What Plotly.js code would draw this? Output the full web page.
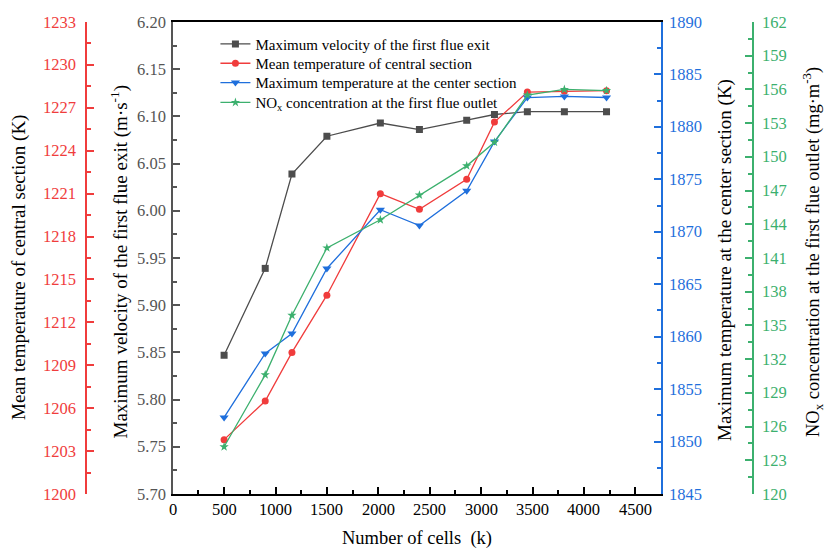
<!DOCTYPE html>
<html>
<head>
<meta charset="utf-8">
<script src="https://cdn.plot.ly/plotly-3.0.1.min.js"></script>
</head>
<body style="margin:0;background:#fff">
<div id="chart" style="width:827px;height:551px"></div>
<div style="position:absolute;left:-5000px;top:0;font-family:'Liberation Serif';font-size:16px">Number 0123456789</div>
<script>
const cells = [500, 900, 1160, 1500, 2020, 2400, 2860, 3130, 3450, 3810, 4220];
const velocity = [5.847, 5.939, 6.039, 6.079, 6.093, 6.086, 6.096, 6.102, 6.105, 6.105, 6.105];
const meanTemp = [1203.8, 1206.5, 1209.9, 1213.9, 1221.0, 1219.9, 1222.0, 1226.0, 1228.1, 1228.15, 1228.2];
const maxTemp = [1852.3, 1858.4, 1860.3, 1866.5, 1872.1, 1870.6, 1873.9, 1878.6, 1882.8, 1882.9, 1882.8];
const nox = [124.2, 130.6, 135.9, 141.9, 144.4, 146.6, 149.2, 151.3, 155.5, 156.0, 155.9];

const xTicks = [0, 500, 1000, 1500, 2000, 2500, 3000, 3500, 4000, 4500];
const velTicks = ["5.70", "5.75", "5.80", "5.85", "5.90", "5.95", "6.00", "6.05", "6.10", "6.15", "6.20"];
const meanTicks = [1200, 1203, 1206, 1209, 1212, 1215, 1218, 1221, 1224, 1227, 1230, 1233];
const maxTicks = [1845, 1850, 1855, 1860, 1865, 1870, 1875, 1880, 1885, 1890];
const noxTicks = [120, 123, 126, 129, 132, 135, 138, 141, 144, 147, 150, 153, 156, 159, 162];

const seriesNames = [
  "Maximum velocity of the first flue exit",
  "Mean temperature of central section",
  "Maximum temperature at the center section",
  "NO<sub>x</sub> concentration at the first flue outlet"
];
const axisTitles = {
  x: "Number of cells  (k)",
  vel: "Maximum velocity of the first flue exit (m·s<sup>-1</sup>)",
  mean: "Mean temperature of central section (K)",
  max: "Maximum temperature at the center section (K)",
  nox: "NO<sub>x</sub> concentration at the first flue outlet (mg·m<sup>-3</sup>)"
};

const cGray = "#4d4d4d", cRed = "#f03c3c", cBlue = "#1f6fdc", cGreen = "#3cb06e";
const FAM = "Liberation Serif";
const TICK_SIZE = 16.5, TITLE_SIZE = 19;

const legendTops = [0.988, 0.947, 0.906, 0.864];
const legendNames = ["legend", "legend2", "legend3", "legend4"];

const traces = [
  {x: cells, y: velocity, name: seriesNames[0], yaxis: "y", mode: "lines+markers", legend: legendNames[0],
   line: {color: cGray, width: 1.3}, marker: {symbol: "square", size: 7, color: cGray}},
  {x: cells, y: meanTemp, name: seriesNames[1], yaxis: "y2", mode: "lines+markers", legend: legendNames[1],
   line: {color: cRed, width: 1.3}, marker: {symbol: "circle", size: 7, color: cRed}},
  {x: cells, y: maxTemp, name: seriesNames[2], yaxis: "y3", mode: "lines+markers", legend: legendNames[2],
   line: {color: cBlue, width: 1.3}, marker: {symbol: "triangle-down", size: 8, color: cBlue}},
  {x: cells, y: nox, name: seriesNames[3], yaxis: "y4", mode: "lines+markers", legend: legendNames[3],
   line: {color: cGreen, width: 1.3}, marker: {symbol: "star", size: 7, color: cGreen}}
];

function legendAt(yTop) {
  return {x: 0.2605, y: yTop, xanchor: "left", yanchor: "top", bgcolor: "rgba(0,0,0,0)",
          font: {family: FAM, size: 15, color: "#000"}};
}

const annotations = [];
function label(text, opts, color, size) {
  annotations.push(Object.assign({text: String(text), showarrow: false, borderpad: 0, borderwidth: 0,
    font: {family: FAM, size: size, color: color}}, opts));
}
xTicks.forEach(v => label(v, {xref: "x", x: v, yref: "paper", y: 0, yanchor: "middle", yshift: -15.5}, "#000", TICK_SIZE));
velTicks.forEach(v => label(v, {xref: "paper", x: 166/827, xanchor: "right", yref: "y", y: Number(v), yanchor: "middle"}, "#555", TICK_SIZE));
meanTicks.forEach(v => label(v, {xref: "paper", x: 76/827, xanchor: "right", yref: "y2", y: v, yanchor: "middle"}, cRed, TICK_SIZE));
maxTicks.forEach(v => label(v, {xref: "paper", x: 669/827, xanchor: "left", yref: "y3", y: v, yanchor: "middle"}, cBlue, TICK_SIZE));
noxTicks.forEach(v => label(v, {xref: "paper", x: 762/827, xanchor: "left", yref: "y4", y: v, yanchor: "middle"}, cGreen, TICK_SIZE));

label(axisTitles.x, {xref: "paper", x: 416.7/827, yref: "paper", y: -0.0953, xanchor: "center", yanchor: "middle"}, "#000", TITLE_SIZE - 0.5);
label(axisTitles.mean, {xref: "paper", x: 19/827, yref: "paper", y: 0.4788, xanchor: "center", yanchor: "middle", textangle: -90}, "#000", TITLE_SIZE);
label(axisTitles.vel, {xref: "paper", x: 119.5/827, yref: "paper", y: 0.4915, xanchor: "center", yanchor: "middle", textangle: -90}, "#000", TITLE_SIZE);
label(axisTitles.max, {xref: "paper", x: 725/827, yref: "paper", y: 0.4958, xanchor: "center", yanchor: "middle", textangle: -90}, "#000", TITLE_SIZE);
label(axisTitles.nox, {xref: "paper", x: 812/827, yref: "paper", y: 0.5127, xanchor: "center", yanchor: "middle", textangle: -90}, "#000", TITLE_SIZE - 0.5);

function yAxisBase(color, range, dtick, minorDtick) {
  return {
    range: range, dtick: dtick, tick0: range[0], showticklabels: false,
    showgrid: false, zeroline: false, showline: true, linecolor: color, linewidth: 2,
    ticks: "inside", ticklen: 7, tickwidth: 1.5, tickcolor: color,
    minor: {dtick: minorDtick, ticks: "inside", ticklen: 4, tickcolor: color}
  };
}

const layout = {
  width: 827, height: 551,
  margin: {l: 0, r: 0, t: 22, b: 57},
  paper_bgcolor: "#fff", plot_bgcolor: "#fff",
  font: {family: FAM, size: 15, color: "#000"},
  showlegend: true,
  legend: legendAt(legendTops[0]),
  legend2: legendAt(legendTops[1]),
  legend3: legendAt(legendTops[2]),
  legend4: legendAt(legendTops[3]),
  annotations: annotations,
  xaxis: {
    domain: [172.7/827, 661/827], range: [0, 4750], dtick: 500, tick0: 0, showticklabels: false,
    showgrid: false, zeroline: false, showline: true, linecolor: "#000", linewidth: 2, mirror: true,
    ticks: "inside", ticklen: 7, tickwidth: 1.5, tickcolor: "#000",
    minor: {dtick: 250, ticks: "inside", ticklen: 4, tickcolor: "#000"}
  },
  yaxis: yAxisBase("#555", [5.70, 6.20], 0.05, 0.025),
  yaxis2: Object.assign(yAxisBase(cRed, [1200, 1233], 3, 1.5),
    {overlaying: "y", side: "left", anchor: "free", position: 85.7/827}),
  yaxis3: Object.assign(yAxisBase(cBlue, [1845, 1890], 5, 2.5),
    {overlaying: "y", side: "right", anchor: "x"}),
  yaxis4: Object.assign(yAxisBase(cGreen, [120, 162], 3, 1.5),
    {overlaying: "y", side: "right", anchor: "free", position: 753.3/827})
};

Plotly.newPlot("chart", traces, layout, {displayModeBar: false});
</script>
</body>
</html>
